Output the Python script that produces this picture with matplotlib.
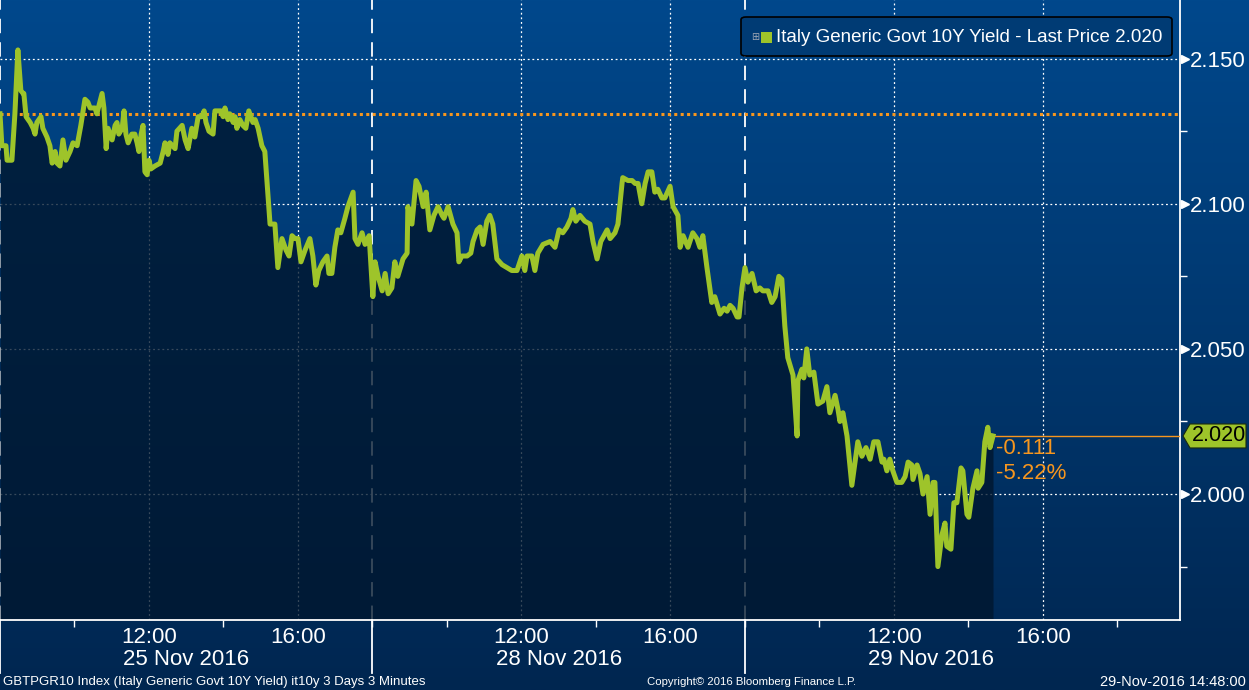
import matplotlib.pyplot as plt
import numpy as np
from matplotlib.patches import FancyBboxPatch, Polygon, Rectangle

plt.rcParams['font.family'] = ['Liberation Sans', 'DejaVu Sans']

# trading hours since 25 Nov 08:00, the three sessions (08:00-18:00) joined end to end
hours = [
    0.00, 0.05, 0.16, 0.19, 0.32, 0.40, 0.48, 0.56, 0.62, 0.64,
    0.70, 0.81, 0.89, 0.94, 0.99, 1.10, 1.15, 1.26, 1.34, 1.40,
    1.48, 1.53, 1.61, 1.69, 1.77, 1.88, 1.96, 2.07, 2.17, 2.28,
    2.36, 2.42, 2.55, 2.60, 2.66, 2.74, 2.79, 2.85, 2.90, 3.01,
    3.09, 3.14, 3.19, 3.28, 3.33, 3.38, 3.44, 3.54, 3.62, 3.68,
    3.73, 3.79, 3.84, 3.89, 3.95, 4.00, 4.05, 4.16, 4.30, 4.38,
    4.43, 4.51, 4.56, 4.70, 4.75, 4.89, 4.97, 5.05, 5.15, 5.23,
    5.32, 5.42, 5.48, 5.53, 5.61, 5.72, 5.77, 5.85, 5.93, 5.99,
    6.04, 6.12, 6.17, 6.26, 6.31, 6.36, 6.44, 6.52, 6.60, 6.68,
    6.79, 6.85, 6.93, 7.03, 7.11, 7.19, 7.25, 7.38, 7.46, 7.57,
    7.68, 7.76, 7.84, 7.92, 8.00, 8.08, 8.19, 8.32, 8.40, 8.48,
    8.56, 8.67, 8.78, 8.83, 8.91, 8.99, 9.07, 9.15, 9.26, 9.34,
    9.48, 9.53, 9.61, 9.72, 9.80, 9.91, 10.01, 10.07, 10.15, 10.26,
    10.34, 10.42, 10.52, 10.60, 10.68, 10.82, 10.93, 10.95, 11.06, 11.17,
    11.25, 11.36, 11.44, 11.54, 11.65, 11.76, 11.87, 11.92, 12.03, 12.16,
    12.27, 12.32, 12.40, 12.54, 12.64, 12.70, 12.81, 12.89, 12.97, 13.07,
    13.15, 13.23, 13.34, 13.48, 13.61, 13.74, 13.88, 14.01, 14.09, 14.15,
    14.28, 14.36, 14.44, 14.58, 14.77, 14.90, 15.01, 15.11, 15.22, 15.33,
    15.38, 15.46, 15.57, 15.70, 15.84, 15.92, 16.03, 16.13, 16.30, 16.38,
    16.51, 16.59, 16.70, 16.72, 16.86, 16.97, 17.05, 17.13, 17.23, 17.32,
    17.40, 17.50, 17.58, 17.66, 17.77, 17.85, 17.99, 18.07, 18.20, 18.26,
    18.34, 18.47, 18.60, 18.71, 18.79, 18.87, 18.98, 19.11, 19.19, 19.33,
    19.44, 19.52, 19.60, 19.68, 19.79, 19.84, 19.92, 20.00, 20.08, 20.19,
    20.30, 20.40, 20.48, 20.62, 20.72, 20.81, 20.91, 20.99, 21.07, 21.15,
    21.29, 21.40, 21.42, 21.53, 21.58, 21.66, 21.74, 21.85, 21.96, 22.09,
    22.20, 22.28, 22.42, 22.50, 22.55, 22.63, 22.74, 22.87, 23.03, 23.14,
    23.25, 23.36, 23.46, 23.57, 23.68, 23.73, 23.81, 23.89, 23.97, 24.08,
    24.21, 24.30, 24.38, 24.48, 24.51, 24.62, 24.70, 24.78, 24.89, 24.97,
    25.05, 25.10, 25.18, 25.29, 25.37, 25.42, 25.53, 25.61, 25.69, 25.80,
    25.85, 25.96, 26.01, 26.12, 26.23, 26.26, 26.36, 26.44, 26.52, 26.58,
    26.66,
]
yields = [
    2.131, 2.120, 2.120, 2.115, 2.115, 2.131, 2.153, 2.139, 2.138, 2.138,
    2.130, 2.128, 2.126, 2.124, 2.128, 2.130, 2.126, 2.123, 2.120, 2.114,
    2.118, 2.114, 2.113, 2.122, 2.115, 2.118, 2.121, 2.120, 2.127, 2.136,
    2.135, 2.133, 2.133, 2.131, 2.134, 2.138, 2.133, 2.119, 2.126, 2.122,
    2.127, 2.128, 2.124, 2.126, 2.132, 2.124, 2.121, 2.124, 2.124, 2.121,
    2.118, 2.124, 2.127, 2.111, 2.110, 2.115, 2.112, 2.113, 2.114, 2.118,
    2.121, 2.117, 2.121, 2.119, 2.125, 2.127, 2.122, 2.119, 2.126, 2.123,
    2.130, 2.130, 2.132, 2.128, 2.125, 2.124, 2.132, 2.132, 2.132, 2.130,
    2.133, 2.129, 2.131, 2.128, 2.130, 2.126, 2.129, 2.127, 2.126, 2.132,
    2.128, 2.129, 2.126, 2.120, 2.118, 2.104, 2.093, 2.093, 2.078, 2.088,
    2.084, 2.082, 2.089, 2.088, 2.088, 2.080, 2.084, 2.088, 2.082, 2.072,
    2.077, 2.080, 2.082, 2.076, 2.076, 2.085, 2.091, 2.090, 2.095, 2.099,
    2.104, 2.088, 2.086, 2.090, 2.086, 2.089, 2.068, 2.080, 2.075, 2.070,
    2.076, 2.069, 2.071, 2.080, 2.075, 2.081, 2.083, 2.099, 2.093, 2.108,
    2.106, 2.099, 2.104, 2.091, 2.096, 2.099, 2.096, 2.095, 2.099, 2.093,
    2.090, 2.080, 2.082, 2.082, 2.083, 2.087, 2.091, 2.092, 2.086, 2.094,
    2.096, 2.093, 2.081, 2.079, 2.078, 2.077, 2.077, 2.082, 2.077, 2.082,
    2.082, 2.077, 2.083, 2.086, 2.087, 2.085, 2.091, 2.090, 2.092, 2.095,
    2.098, 2.094, 2.096, 2.094, 2.093, 2.087, 2.081, 2.087, 2.091, 2.088,
    2.090, 2.093, 2.107, 2.109, 2.108, 2.108, 2.107, 2.107, 2.100, 2.107,
    2.111, 2.111, 2.104, 2.105, 2.102, 2.102, 2.106, 2.099, 2.096, 2.085,
    2.089, 2.085, 2.090, 2.088, 2.085, 2.089, 2.078, 2.066, 2.068, 2.062,
    2.064, 2.063, 2.065, 2.064, 2.061, 2.061, 2.071, 2.078, 2.073, 2.076,
    2.070, 2.071, 2.070, 2.070, 2.066, 2.068, 2.075, 2.074, 2.058, 2.047,
    2.041, 2.020, 2.039, 2.043, 2.040, 2.050, 2.041, 2.042, 2.031, 2.032,
    2.037, 2.028, 2.034, 2.029, 2.025, 2.028, 2.020, 2.003, 2.018, 2.013,
    2.016, 2.012, 2.018, 2.018, 2.011, 2.012, 2.008, 2.012, 2.008, 2.004,
    2.004, 2.006, 2.011, 2.010, 2.005, 2.010, 2.007, 2.000, 2.006, 1.993,
    2.004, 2.004, 1.975, 1.986, 1.990, 1.982, 1.981, 1.997, 1.997, 2.009,
    2.008, 1.993, 1.992, 2.002, 2.008, 2.002, 2.004, 2.018, 2.023, 2.016,
    2.020,
]

prev_close = 2.131
days = ['25 Nov 2016', '28 Nov 2016', '29 Nov 2016']
session_len = 10
y_ticks = [2.000, 2.050, 2.100, 2.150]
y_minor = [1.975, 2.025, 2.075, 2.125]
change_lbl = '-0.111'
pct_lbl = '-5.22%'
series_name = 'Italy Generic Govt 10Y Yield - Last Price'

line_col = '#9ec42a'
orange = '#f7961e'

fig = plt.figure(figsize=(12.49, 6.90), dpi=100)

# blue gradient behind everything
bg = fig.add_axes([0, 0, 1, 1], zorder=-5)
top = np.array([0, 72, 140]) / 255
bot = np.array([0, 38, 80]) / 255
t = np.linspace(0, 1, 256)[:, None]
grad = top[None, :] * (1 - t) + bot[None, :] * t
bg.imshow(grad[:, None, :], aspect='auto', extent=[0, 1, 0, 1])
bg.axis('off')

ax = fig.add_axes([0, 70 / 690, 1180 / 1249, 620 / 690])
ax.set_facecolor('none')
ax.set_xlim(0, 31.68)
ax.set_ylim(1.9566, 2.1702)

last = yields[-1]

# grid
for yv in y_ticks:
    ax.axhline(yv, color='white', lw=0.9, ls=(0, (1.5, 2.2)), zorder=1)
for d in range(len(days)):
    for h in (4, 8):
        ax.axvline(d * session_len + h, color='white', lw=0.9, ls=(0, (1.5, 2.2)), zorder=1)
    ax.axvline(d * session_len, color='white', lw=1.3, ls=(0, (8, 5)), zorder=1)

ax.fill_between(hours, yields, 1.9566, color='#00162d', alpha=0.78, lw=0, zorder=2)
ax.plot(hours, yields, color=line_col, lw=3.6, zorder=4, solid_joinstyle='round')

# previous close and last price lines
ax.axhline(prev_close, color=orange, lw=2.2, ls=(0, (1, 1.1)), zorder=3)
ax.plot([hours[-1], 31.68], [last, last], color=orange, lw=1.0, zorder=3)
ax.text(hours[-1] + 0.07, last - 0.0042, change_lbl, color=orange, fontsize=16, va='center', zorder=5)
ax.text(hours[-1] + 0.07, last - 0.0128, pct_lbl, color=orange, fontsize=16, va='center', zorder=5)

# spines
for s in ('top', 'left'):
    ax.spines[s].set_visible(False)
ax.spines['right'].set_color('white')
ax.spines['bottom'].set_color('white')
ax.spines['right'].set_linewidth(1.3)
ax.spines['bottom'].set_linewidth(1.3)

# y axis on the right
ax.yaxis.tick_right()
ax.set_yticks(y_ticks)
ax.set_yticklabels([f'{v:.3f}' for v in y_ticks])
ax.set_yticks(y_minor, minor=True)
ax.tick_params(axis='y', which='major', length=0, pad=7, labelsize=16, labelcolor='white')
ax.tick_params(axis='y', which='minor', length=5, width=1, color='white', direction='out')
ax.plot([1.004] * len(y_ticks), y_ticks, transform=ax.get_yaxis_transform(), ls='none',
        marker='>', ms=6, color='white', clip_on=False, zorder=6)

# x axis
major_x = []
major_lbl = []
minor_x = []
for d in range(len(days)):
    major_x += [d * session_len + 4, d * session_len + 8]
    major_lbl += ['12:00', '16:00']
    minor_x += [d * session_len + 2, d * session_len + 6, d * session_len + 10]
ax.set_xticks(major_x)
ax.set_xticklabels(major_lbl)
ax.set_xticks(minor_x, minor=True)
ax.tick_params(axis='x', which='major', length=0, pad=5, labelsize=16, labelcolor='white')
ax.tick_params(axis='x', which='minor', length=5, width=1, color='white', direction='out')

xt = ax.get_xaxis_transform()
for d, name in enumerate(days):
    ax.text(d * session_len + 5, -0.063, name, transform=xt, color='white', fontsize=16,
            ha='center', va='center')
    ax.plot([d * session_len] * 2, [0, -0.086], transform=xt, color='white', lw=1.3, clip_on=False)

# last price tag on the axis
y_disp = ax.transData.transform((0, last))[1]
x_disp = ax.transAxes.transform((1, 0))[0]
tag = Polygon([[x_disp + 3, y_disp], [x_disp + 10, y_disp + 12], [x_disp + 66, y_disp + 12],
               [x_disp + 66, y_disp - 12], [x_disp + 10, y_disp - 12]], closed=True,
              transform=None, facecolor=line_col, edgecolor='#1a2a10', lw=0.8, zorder=7)
fig.add_artist(tag)
fig.text((x_disp + 12) / 1249, y_disp / 690, f'{last:.3f}', color='black', fontsize=15.5,
         va='center', ha='left', zorder=8)

# legend box
leg = FancyBboxPatch((741 / 1249, 1 - 56 / 690), 431 / 1249, 39 / 690,
                     boxstyle='round,pad=0,rounding_size=0.004', transform=fig.transFigure,
                     facecolor='#003b74', edgecolor='black', lw=1.2, zorder=10)
fig.add_artist(leg)
fig.text(751 / 1249, 1 - 37 / 690, '⊞', color='#a0a8b4', fontsize=7, va='center',
         family='DejaVu Sans', zorder=11)
fig.add_artist(Rectangle((761 / 1249, 1 - 43 / 690), 11 / 1249, 11 / 690,
                         transform=fig.transFigure, facecolor=line_col, lw=0, zorder=11))
fig.text(776 / 1249, 1 - 37 / 690, f'{series_name} {last:.3f}', color='white', fontsize=13.5,
         va='center', ha='left', zorder=11)

# footer
fig.text(3 / 1249, 0.012, 'GBTPGR10 Index (Italy Generic Govt 10Y Yield) it10y 3 Days 3 Minutes',
         color='white', fontsize=9.5, va='center')
fig.text(752 / 1249, 0.012, 'Copyright© 2016 Bloomberg Finance L.P.', color='white',
         fontsize=8.2, va='center', ha='center')
fig.text(1246 / 1249, 0.012, '29-Nov-2016 14:48:00', color='white', fontsize=10.5,
         va='center', ha='right')

fig.savefig('out.png', dpi=100)
